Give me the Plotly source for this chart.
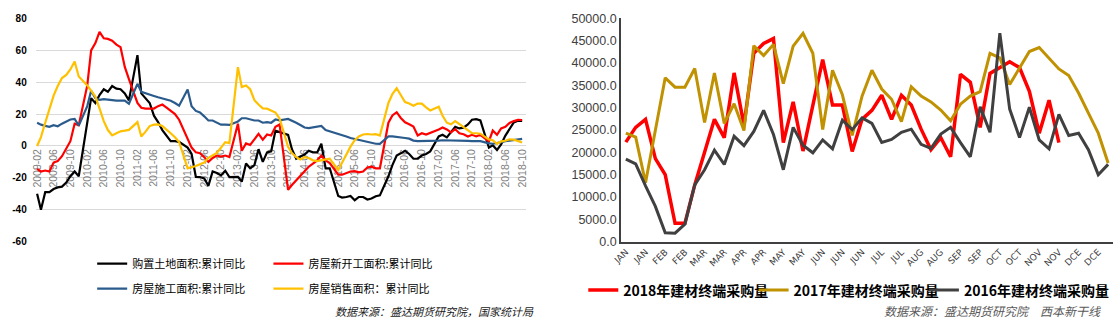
import plotly.graph_objects as go

# ---------------- Left panel data (cumulative YoY %, Feb..Dec each year; 2018 Feb..Oct) -------------
years = list(range(2009, 2019))
land_purchase = [  # 购置土地面积:累计同比
    -30, -40, -29, -29, -27, -26, -25.5, -23, -19, -16, -19,
    13, 30, 27, 32, 35.6, 34, 37.6, 36, 35.6, 33, 28.6,
    57, 33, 30, 27, 19, 15, 10, 6.5, 3, 3, 2.6,
    -1, -5, -19.4, -19.5, -20.4, -25, -16, -17, -18.5, -15.5, -19.5,
    -19.4, -22.4, -11, -14, -12, -2, -10, -4, -3.4, 9.6, 8.8,
    7, -2, -8, -6.6, -5.4, -3, -4, -4, 1.4, -14, -14,
    -31.4, -32.4, -32, -31.4, -34, -32, -32, -33.6, -33, -31.5, -31,
    -19, -12, -6, -4.6, -3, -5, -8, -8, -6, -5, -3.4,
    6, 7, 5.4, 8.6, 12, 11, 11.5, 13.5, 16.5, 16.8, 16,
    -1, 0.5, -2.5, 1, 6.5, 10.5, 14.8, 15.8, 15.8,
]
new_starts = [  # 房屋新开工面积:累计同比
    -14.4, -16, -15.4, -16, -10.4, -9.4, -6.4, -1.4, 3, 14, 13,
    38, 60, 64.6, 71.6, 67.6, 67.2, 66, 63.6, 62, 49.6, 42,
    27, 24, 23.4, 23.5, 23.5, 25, 26, 24, 22, 20, 16.5,
    5, -1, -4, -4.5, -7, -10, -7.5, -6, -6.6, -6, -7,
    14, -3, 1.6, 0.6, 4, 7.6, 4, 7.2, 6.6, 12, 13.5,
    -27.5, -24.5, -21.5, -19, -16, -13, -11, -9, -6, -9, -10.7,
    -18, -18, -17, -16, -15.8, -16.5, -16, -13.5, -13, -14, -14,
    14.6, 19.2, 21.2, 17.6, 14.9, 13.6, 12.2, 6.6, 8, 7.2, 8.1,
    10.4, 11.6, 10.4, 8.6, 10.6, 8, 7.4, 6, 7, 6, 7,
    2.9, 9.7, 7, 11, 12, 14.4, 15.6, 16.4, 16.3,
]
under_construction = [  # 房屋施工面积:累计同比
    14.6, 13.4, 12.6, 12, 13, 12.4, 14, 15.4, 16.6, 17, 12.8,
    25, 34.6, 30, 29, 29.4, 29, 28.6, 28.5, 28.5, 28.5, 26.5,
    39, 34, 33, 32, 31.4, 30.6, 30, 29, 28.4, 27, 25.3,
    35.4, 25, 22, 21, 18.6, 16, 16, 14.6, 13.4, 13.4, 13.2,
    15.4, 17.4, 17.4, 16.6, 16, 16, 14.6, 15, 14.6, 16.6, 16.1,
    17, 16, 14.6, 13.2, 11.6, 11.2, 11.6, 12, 12.6, 10, 9.2,
    8, 7, 6, 5, 4.4, 3.4, 3, 2.6, 2, 1.4, 1.3,
    6, 6, 5.8, 5.4, 5, 4.6, 3.4, 3, 3, 3.2, 3.2,
    3.4, 3.6, 3.6, 3.5, 3.4, 3.4, 3.3, 3.2, 3.1, 3.2, 3.0,
    1.6, 1.4, 1.8, 2.5, 3, 3.4, 3.7, 4, 4.5,
]
sales_area = [  # 房屋销售面积：累计同比
    0, 5.6, 14.6, 23.6, 31.6, 37.6, 42.6, 44.6, 48, 53, 43.6,
    38, 34.6, 31, 23.6, 15.6, 10, 6.6, 8, 9.2, 9.6, 10.1,
    15, 6, 9, 12.5, 13.4, 13.5, 12.5, 10.5, 8, 5.5, 2.5,
    -14, -13.4, -12.6, -11.5, -10.4, -7.4, -6, -4.4, -1, 2.4, 1.8,
    49.5, 37, 38, 35.6, 28.7, 26, 23.6, 23.4, 22, 21, 17.3,
    -0.5, -4.5, -7, -8.5, -7, -7.5, -9, -9.5, -9, -8.5, -8,
    -15, -10.4, -6, -0.4, 3.6, 6, 7.2, 7.5, 7.2, 7.4, 6.5,
    27, 32.6, 36.3, 32, 27.6, 26.6, 25.2, 26.6, 26.6, 24.2, 22.3,
    24.6, 19, 14.6, 13.6, 15.6, 13.6, 11.6, 9.6, 8, 8, 7.7,
    4.1, 3.6, 1.3, 2.9, 3.3, 4.2, 4, 2.9, 2.2,
]
left_yticks = [80, 60, 40, 20, 0, -20, -40, -60]

# ---------------- Right panel data (weekly terminal purchases) -------------
week_labels = ["JAN", "JAN", "FEB", "FEB", "MAR", "MAR", "APR", "APR", "MAY", "MAY",
               "JUN", "JUN", "JUN", "JUL", "JUL", "AUG", "AUG", "SEP", "SEP",
               "OCT", "OCT", "NOV", "NOV", "DCE", "DCE"]
purchase_2018 = [22300, 25600, 27400, 18600, 15000, 4100, 4100, 12700, 20000, 27400,
                 23300, 37800, 26100, 42200, 44400, 45500, 22200, 31300, 20300, 30100,
                 40800, 30600, 30600, 20200, 27400, 29400, 32800, 27400, 32800, 30600,
                 25200, 20600, 23300, 19000, 37500, 35700, 25600, 37700, 39000, 40300,
                 39000, 33700, 24300, 31700, 22200]
purchase_2017 = [24300, 23400, 13200, 24800, 36700, 34600, 34600, 38800, 26700, 37800,
                 26500, 30900, 24900, 43900, 41700, 44200, 35400, 43800, 46700, 42200,
                 25100, 38400, 32900, 23800, 32600, 38400, 34200, 31900, 26900, 34700,
                 32600, 31300, 29500, 27100, 30800, 32600, 33600, 42200, 41200, 35200,
                 39000, 42600, 43500, 41200, 38700, 37200, 33300, 28800, 24300, 17600]
purchase_2016 = [18500, 17400, 12500, 7900, 2000, 1900, 3900, 12700, 16100, 20500,
                 17300, 23600, 21500, 24700, 29400, 24000, 16100, 25600, 21600, 19900,
                 22800, 20800, 27200, 25100, 27700, 26500, 22200, 22900, 24500, 25200,
                 21800, 20900, 24100, 25600, 22200, 19000, 30200, 24500, 46700, 29700,
                 23300, 30100, 22800, 20800, 28500, 23800, 24300, 20600, 15000, 17300]

# ---------------- build x values -------------
months = []
for y in years:
    last = 10 if y == 2018 else 12
    for m in range(2, last + 1):
        months.append(f"{y}-{m:02d}-01")

tick_dates, tick_text = [], []
y, m = 2009, 2
while (y, m) <= (2018, 10):
    tick_dates.append(f"{y}-{m:02d}-01")
    tick_text.append(f"{y}-{m:02d}")
    m += 4
    if m > 12:
        m -= 12
        y += 1

W, H = 1118, 330
def px_x(v): return v / W
def px_y(v): return 1 - v / H

ydom = [px_y(245), px_y(12)]
zero_pos = ydom[0] + (ydom[1] - ydom[0]) * 60 / 140

CJK = "Noto Sans CJK SC, Noto Sans, sans-serif"

fig = go.Figure()

left_series = [
    ("购置土地面积:累计同比", land_purchase, "#000000", "legend"),
    ("房屋新开工面积:累计同比", new_starts, "#FF0000", "legend2"),
    ("房屋施工面积:累计同比", under_construction, "#2A5B8C", "legend3"),
    ("房屋销售面积：累计同比", sales_area, "#FFC000", "legend4"),
]
for name, vals, col, lg in left_series:
    fig.add_trace(go.Scatter(x=months, y=vals, name=name, mode="lines",
                             line=dict(color=col, width=2.2), xaxis="x", yaxis="y",
                             legend=lg, showlegend=True))

right_series = [
    ("2018年建材终端采购量", purchase_2018, "#FF0000", 3.5, "legend5"),
    ("2017年建材终端采购量", purchase_2017, "#C09100", 3, "legend6"),
    ("2016年建材终端采购量", purchase_2016, "#404040", 3, "legend7"),
]
for name, vals, col, w, lg in right_series:
    fig.add_trace(go.Scatter(x=list(range(len(vals))), y=vals, name=name, mode="lines",
                             line=dict(color=col, width=w), xaxis="x2", yaxis="y2",
                             legend=lg, showlegend=True))

def legend_at(xpx, ypx, size, bold=False):
    return dict(x=px_x(xpx), y=px_y(ypx), xanchor="left", yanchor="middle",
                orientation="h", bgcolor="rgba(0,0,0,0)", borderwidth=0,
                font=dict(family=CJK, size=size, color="#000000",
                          weight=("bold" if bold else "normal")))

fig.update_layout(
    width=W, height=H, margin=dict(l=0, r=0, t=0, b=0),
    paper_bgcolor="white", plot_bgcolor="white",
    showlegend=True,
    xaxis=dict(domain=[px_x(27), px_x(522)], type="date",
               range=["2009-01-22", "2018-10-28"], anchor="free", position=zero_pos,
               tickmode="array", tickvals=tick_dates, ticktext=tick_text, tickangle=-90,
               tickfont=dict(family="Liberation Sans, Arial", size=10.5, color="#808080"),
               showgrid=False, showline=False, zeroline=False, ticks="",
               layer="below traces"),
    yaxis=dict(domain=ydom, range=[-60, 80], anchor="x",
               tickmode="array", tickvals=left_yticks, ticktext=[str(v) for v in left_yticks],
               tickfont=dict(family="Liberation Sans, Arial", size=10, color="#000000", weight="bold"),
               showgrid=True, gridcolor="#d9d9d9", gridwidth=1, zeroline=False,
               showline=False, ticks="", ticklabelstandoff=8),
    xaxis2=dict(domain=[px_x(618), px_x(1115)], range=[-0.5, 49.5], anchor="y2",
                tickmode="array", tickvals=list(range(0, 50, 2)), ticktext=week_labels,
                tickangle=-45, tickfont=dict(family="DejaVu Sans", size=9, color="#404040"),
                showgrid=False, zeroline=False, showline=True, linecolor="#404040",
                linewidth=1.5, ticks=""),
    yaxis2=dict(domain=ydom, range=[0, 50000], anchor="x2", dtick=5000, tick0=0,
                tickformat=".1f",
                tickfont=dict(family="Liberation Sans, Arial", size=12.5, color="#404040"),
                showgrid=False, zeroline=False, showline=True, linecolor="#404040",
                linewidth=1.5, ticks=""),
    legend=legend_at(84, 268, 11),
    legend2=legend_at(262, 268, 11),
    legend3=legend_at(84, 294, 11),
    legend4=legend_at(262, 294, 11),
    legend5=legend_at(580, 296, 14, True),
    legend6=legend_at(752, 296, 14, True),
    legend7=legend_at(924, 296, 14, True),
    annotations=[
        dict(text="<i>数据来源：盛达期货研究院，国家统计局</i>", xref="paper", yref="paper",
             x=px_x(532), y=px_y(317), xanchor="right", yanchor="middle", showarrow=False,
             font=dict(family=CJK, size=11, color="#1a1a1a")),
        dict(text="<i>数据来源：盛达期货研究院\u3000西本新干线</i>", xref="paper", yref="paper",
             x=px_x(1105), y=px_y(317), xanchor="right", yanchor="middle", showarrow=False,
             font=dict(family=CJK, size=12, color="#595959")),
    ],
)

fig.write_html("out.html")
